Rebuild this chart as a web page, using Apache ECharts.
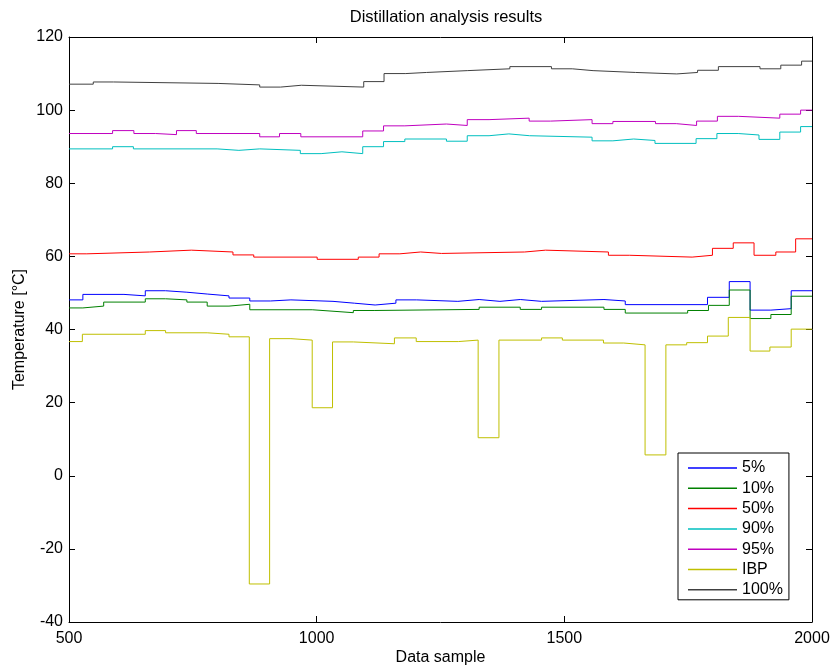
<!DOCTYPE html>
<html>
<head>
<meta charset="utf-8">
<script src="https://cdn.jsdelivr.net/npm/echarts@6/dist/echarts.min.js"></script>
<style>html,body{margin:0;padding:0;background:#fff}#c{width:832px;height:666px}</style>
</head>
<body>
<div id="c"></div>
<script>
const seriesNames = ['5%', '10%', '50%', '90%', '95%', 'IBP', '100%'];
const xTicks = [500, 1000, 1500, 2000];
const yTicks = [-40, -20, 0, 20, 40, 60, 80, 100, 120];
const xEnd = 2000;

// step change points (sample number) and the value held from that sample on
const p5X   = [500, 528, 611, 654, 695, 738, 779, 823, 865, 907, 948, 1033, 1076, 1118, 1160, 1202, 1285, 1328, 1370, 1411, 1454, 1580, 1623, 1789, 1833, 1875, 1917, 1958];
const p5Y   = [48.1, 49.6, 49.2, 50.6, 50.2, 49.7, 49.2, 48.6, 47.8, 48.1, 47.7, 47.2, 46.7, 47.2, 48.1, 47.7, 48.2, 47.7, 48.2, 47.7, 48.2, 47.8, 46.8, 48.8, 53.1, 45.3, 45.7, 50.6];

const p10X  = [500, 528, 570, 654, 695, 738, 779, 823, 865, 991, 1033, 1074, 1116, 1328, 1411, 1454, 1580, 1623, 1749, 1791, 1833, 1875, 1917, 1958];
const p10Y  = [45.9, 46.4, 47.5, 48.4, 48.1, 47.5, 46.4, 46.9, 45.4, 45.0, 44.6, 45.2, 45.5, 46.1, 45.5, 46.1, 45.5, 44.5, 45.2, 46.6, 50.8, 43.0, 44.1, 49.1];

const p50X  = [500, 536, 663, 747, 831, 873, 1001, 1084, 1126, 1168, 1210, 1252, 1420, 1462, 1589, 1632, 1758, 1799, 1841, 1883, 1927, 1967];
const p50Y  = [60.7, 61.2, 61.7, 61.2, 60.4, 59.8, 59.2, 59.8, 60.7, 61.2, 60.8, 61.2, 61.7, 61.2, 60.3, 59.8, 60.3, 62.2, 63.7, 60.3, 61.2, 64.8];

const p90X  = [500, 588, 630, 799, 843, 885, 967, 1009, 1051, 1093, 1135, 1178, 1262, 1304, 1348, 1388, 1430, 1556, 1598, 1640, 1683, 1766, 1808, 1851, 1893, 1935, 1977];
const p90Y  = [89.4, 90.0, 89.4, 89.0, 89.4, 89.0, 88.1, 88.6, 88.1, 90.0, 91.4, 92.1, 91.5, 93.0, 93.5, 93.0, 92.6, 91.6, 92.1, 91.7, 90.9, 92.2, 93.6, 93.2, 92.0, 94.0, 95.5];

const p95X  = [500, 588, 631, 675, 717, 757, 885, 925, 968, 1093, 1135, 1178, 1262, 1304, 1348, 1429, 1472, 1556, 1598, 1684, 1726, 1767, 1809, 1852, 1935, 1977];
const p95Y  = [93.6, 94.4, 93.6, 93.3, 94.4, 93.6, 92.7, 93.6, 92.7, 94.3, 95.7, 96.2, 95.8, 97.4, 97.8, 97.0, 97.4, 96.3, 96.9, 96.3, 95.8, 97.0, 98.3, 97.8, 98.9, 100.0];

const ibpX  = [500, 527, 654, 695, 779, 823, 864, 905, 948, 991, 1032, 1074, 1157, 1201, 1286, 1326, 1368, 1454, 1496, 1579, 1620, 1663, 1705, 1747, 1789, 1831, 1875, 1915, 1958];
const ibpY  = [36.7, 38.7, 39.7, 39.1, 38.7, 38.0, -29.6, 37.5, 37.1, 18.6, 36.6, 36.1, 37.7, 36.7, 37.1, 10.4, 37.1, 37.7, 37.1, 36.3, 35.8, 5.7, 35.8, 36.4, 38.2, 43.3, 34.1, 35.2, 40.1];

const p100X = [500, 549, 590, 801, 885, 927, 969, 1095, 1136, 1180, 1222, 1304, 1390, 1474, 1516, 1558, 1644, 1727, 1769, 1811, 1895, 1937, 1979];
const p100Y = [107.1, 107.7, 107.3, 106.9, 106.3, 106.8, 106.3, 107.8, 110.0, 110.3, 110.8, 111.3, 111.9, 111.3, 110.8, 110.3, 109.9, 110.3, 110.9, 111.9, 111.3, 112.3, 113.4];

const colors = ['#0000ff', '#008000', '#ff0000', '#00bfbf', '#bf00bf', '#bfbf00', '#404040'];
const allX = [p5X, p10X, p50X, p90X, p95X, ibpX, p100X];
const allY = [p5Y, p10Y, p50Y, p90Y, p95Y, ibpY, p100Y];

function build(xs, ys) {
  const d = xs.map((x, i) => [x, ys[i]]);
  d.push([xEnd, ys[ys.length - 1]]);
  return d;
}

const FONT = '"Liberation Sans", Arial, sans-serif';
const chart = echarts.init(document.getElementById('c'), null, {renderer: 'canvas'});

const axisCommon = {
  axisLine: {show: true, onZero: false, lineStyle: {color: '#000', width: 1}},
  axisTick: {show: true, inside: true, length: 6, lineStyle: {color: '#000', width: 1}},
  splitLine: {show: false}
};

chart.setOption({
  animation: false,
  backgroundColor: '#fff',
  title: {
    text: 'Distillation analysis results',
    left: 441, top: 4, textAlign: 'center',
    textStyle: {fontFamily: FONT, fontSize: 16.5, fontWeight: 'normal', color: '#000'}
  },
  grid: {left: 69, right: 20, top: 37, bottom: 44, containLabel: false, outerBoundsMode: 'none'},
  legend: {
    orient: 'vertical',
    left: 678, top: 453,
    data: seriesNames,
    icon: 'rect',
    itemWidth: 49, itemHeight: 1.5, itemGap: 4.3,
    padding: [7, 6, 2, 10],
    borderColor: '#000', borderWidth: 1, backgroundColor: '#fff',
    textStyle: {fontFamily: FONT, fontSize: 16, color: '#000', lineHeight: 16}
  },
  xAxis: [
    Object.assign({
      type: 'value', min: xTicks[0], max: xTicks[xTicks.length - 1], interval: 500, position: 'bottom',
      axisLabel: {show: true, color: '#000', fontFamily: FONT, fontSize: 16, margin: 9, formatter: v => String(v)},
      name: 'Data sample', nameLocation: 'middle', nameGap: 28, nameMoveOverlap: false,
      nameTextStyle: {fontFamily: FONT, fontSize: 16, color: '#000'}
    }, axisCommon),
    Object.assign({
      type: 'value', min: xTicks[0], max: xTicks[xTicks.length - 1], interval: 500, position: 'top',
      axisLabel: {show: false}
    }, axisCommon)
  ],
  yAxis: [
    Object.assign({
      type: 'value', min: yTicks[0], max: yTicks[yTicks.length - 1], interval: 20, position: 'left',
      axisLabel: {show: true, color: '#000', fontFamily: FONT, fontSize: 16, margin: 6, formatter: v => String(v)},
      name: 'Temperature [°C]', nameLocation: 'middle', nameGap: 41, nameMoveOverlap: false,
      nameTextStyle: {fontFamily: FONT, fontSize: 16, color: '#000'}
    }, axisCommon),
    Object.assign({
      type: 'value', min: yTicks[0], max: yTicks[yTicks.length - 1], interval: 20, position: 'right',
      axisLabel: {show: false}
    }, axisCommon)
  ],
  series: seriesNames.map((n, i) => ({
    name: n,
    type: 'line',
    step: 'end',
    symbol: 'none',
    smooth: false,
    xAxisIndex: 0, yAxisIndex: 0,
    data: build(allX[i], allY[i]),
    lineStyle: {color: colors[i], width: 1},
    itemStyle: {color: colors[i]},
    clip: true
  }))
});
</script>
</body>
</html>
